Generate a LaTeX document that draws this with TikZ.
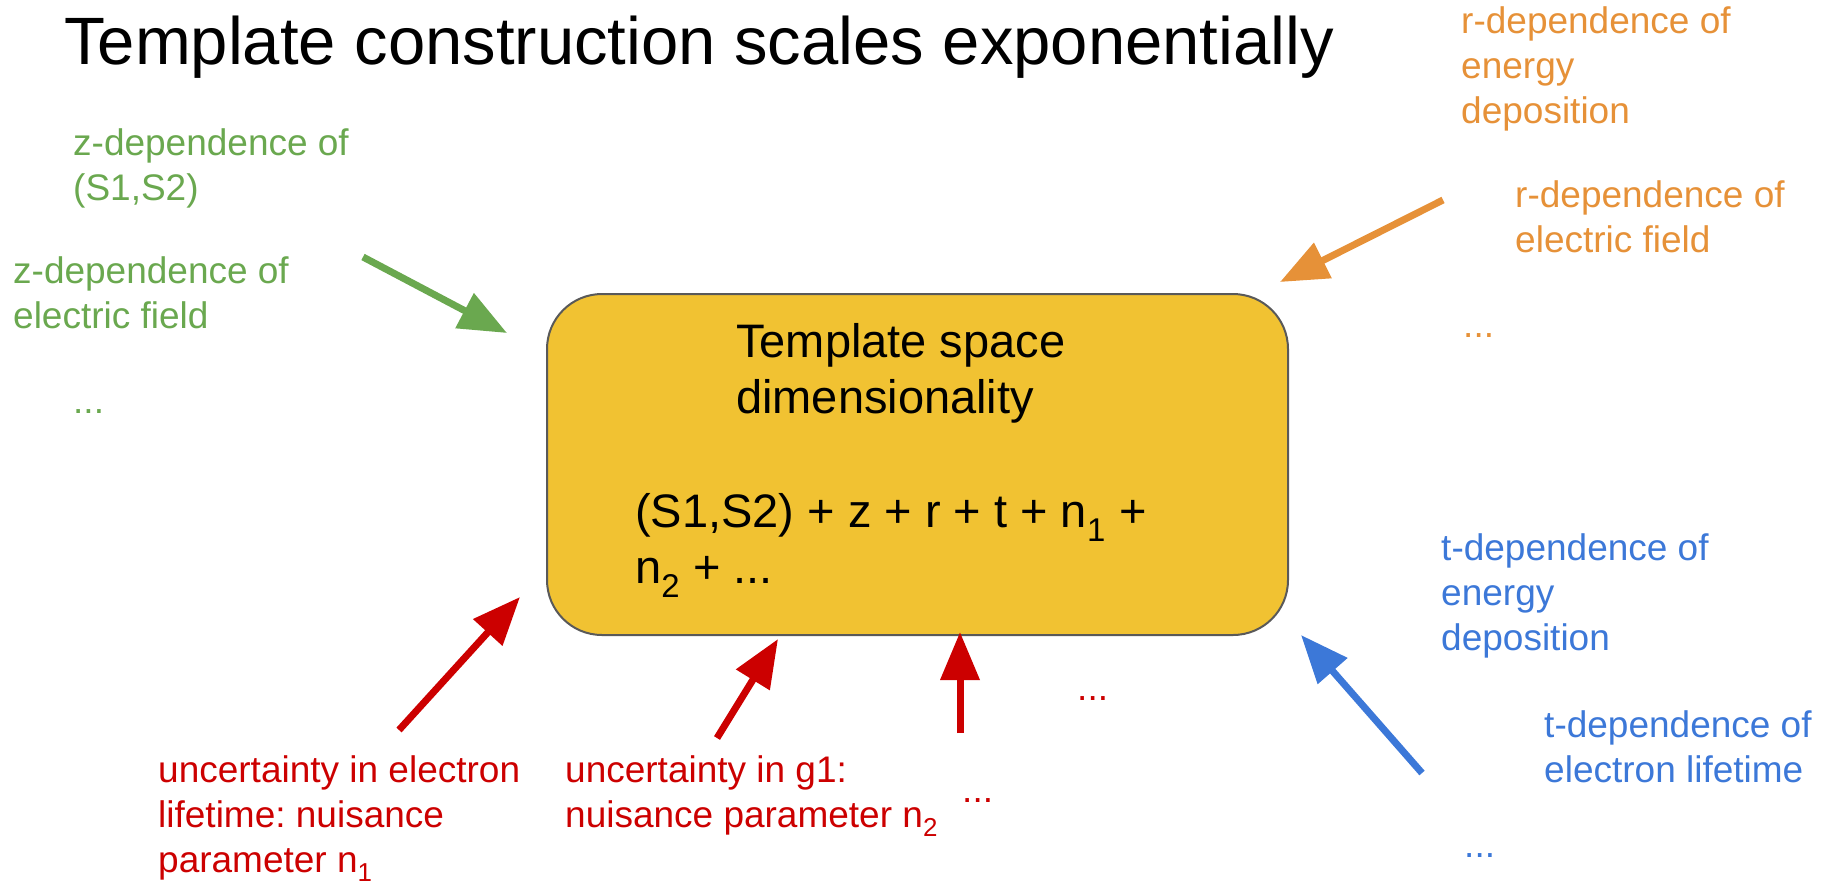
\documentclass[tikz,border=0pt]{standalone}
\usepackage{fontspec}
\setmainfont{Liberation Sans}
\usetikzlibrary{arrows.meta}
\frenchspacing

\definecolor{zgreen}{HTML}{6AA84F}
\definecolor{rorange}{HTML}{E69138}
\definecolor{tblue}{HTML}{3C78D8}
\definecolor{nred}{HTML}{CC0000}
\definecolor{boxyellow}{HTML}{F1C232}
\definecolor{boxline}{HTML}{595959}

\begin{document}
\begin{tikzpicture}[x=1pt,y=-1pt,
  lbl/.style={anchor=base west,inner sep=0pt,align=left,font=\fontsize{37}{45}\selectfont},
  inbox/.style={anchor=base west,inner sep=0pt,align=left,font=\fontsize{47}{56}\selectfont},
  feed/.style={line width=7pt,-{Triangle[length=48pt,width=38pt]}}]

\useasboundingbox (0,0) rectangle (1835,887);

\node[anchor=base west,inner sep=0pt,font=\fontsize{67}{78}\selectfont] (title) at (64,64) {Template construction scales exponentially};

\node[draw=boxline,line width=2pt,fill=boxyellow,rounded corners=55pt,minimum width=741pt,minimum height=341pt,anchor=north west] (space) at (546,293) {};
\node[inbox] (spacename) at (736,413) {Template space\\dimensionality};
\node[inbox] (dims) at (635,583) {(S1,S2) + z + r + t + n\textsubscript{1} +\\n\textsubscript{2} + ...};

\node[lbl,zgreen] (zsig) at (73,200) {z-dependence of\\(S1,S2)};
\node[lbl,zgreen] (zfield) at (13,328) {z-dependence of\\electric field};
\node[lbl,zgreen] (zmore) at (73,413) {...};

\node[lbl,rorange] (renergy) at (1461,123) {r-dependence of\\energy\\deposition};
\node[lbl,rorange] (rfield) at (1515,252) {r-dependence of\\electric field};
\node[lbl,rorange] (rmore) at (1463,337) {...};

\node[lbl,tblue] (tenergy) at (1441,650) {t-dependence of\\energy\\deposition};
\node[lbl,tblue] (tlife) at (1544,782) {t-dependence of\\electron lifetime};
\node[lbl,tblue] (tmore) at (1464,857) {...};

\node[lbl,nred] (nlife) at (158,872) {uncertainty in electron\\lifetime: nuisance\\parameter n\textsubscript{1}};
\node[lbl,nred] (ngain) at (565,827) {uncertainty in g1:\\nuisance parameter n\textsubscript{2}};
\node[lbl,nred] (nmore) at (962,802) {...};
\node[lbl,nred] (nmid) at (1077,700) {...};

\coordinate (zfrom) at (363,257);
\coordinate (zto) at (507,333);
\coordinate (rfrom) at (1443,200);
\coordinate (rto) at (1280,282);
\coordinate (tfrom) at (1422,773);
\coordinate (tto) at (1301,635);
\coordinate (lifefrom) at (399,730);
\coordinate (lifeto) at (520,597);
\coordinate (gainfrom) at (717,738);
\coordinate (gainto) at (778,639);
\coordinate (morefrom) at (960,733);
\coordinate (moreto) at (960,632);

\draw[feed,zgreen] (zfrom) -- (zto);
\draw[feed,rorange] (rfrom) -- (rto);
\draw[feed,tblue] (tfrom) -- (tto);
\draw[feed,nred] (lifefrom) -- (lifeto);
\draw[feed,nred] (gainfrom) -- (gainto);
\draw[feed,nred] (morefrom) -- (moreto);

\end{tikzpicture}
\end{document}
